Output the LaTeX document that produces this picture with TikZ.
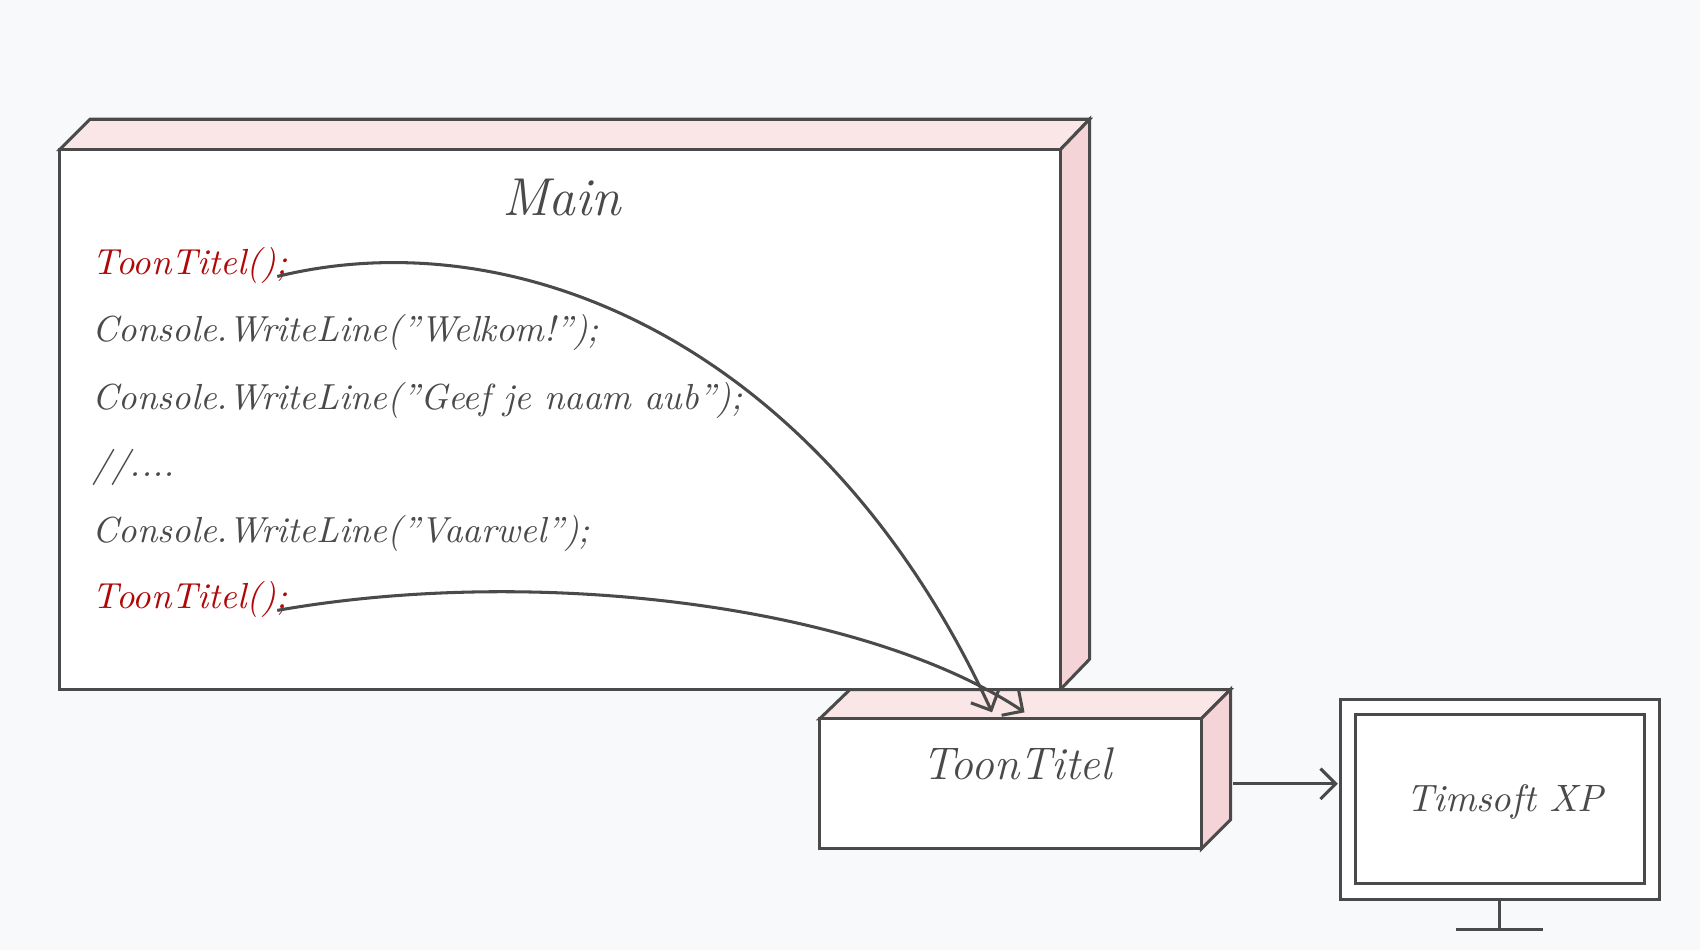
\documentclass[tikz,border=0pt]{standalone}
\usepackage{tikz}
\usetikzlibrary{arrows.meta,positioning}
\definecolor{bgc}{HTML}{F8F9FA}
\definecolor{sidec}{HTML}{F4D4D6}
\definecolor{topc}{HTML}{FBE6E7}
\definecolor{linec}{HTML}{4A4A4A}
\definecolor{redc}{HTML}{B00808}
\tikzset{
	box/.style={draw=linec, thick, fill=white},
	face/.style={draw=linec, thick},
	code/.style={anchor=west, inner sep=0pt, font=\fontsize{9.5}{11}\selectfont\itshape, text=linec},
	call/.style={code, text=redc},
	ar/.style={draw=linec, thick, -{Straight Barb[length=4pt]}}
}
\begin{document}
\begin{tikzpicture}[x=0.01cm, y=-0.01cm]
	\fill[bgc] (0,0) rectangle (1568,876);
	\useasboundingbox (0,0) rectangle (1568,876);
	% Main box
	\draw[face, fill=topc] (55,138) -- (83,110) -- (1005,110) -- (978,138) -- cycle;
	\draw[face, fill=sidec] (978,138) -- (1005,110) -- (1005,608) -- (978,636) -- cycle;
	\draw[box] (55,138) rectangle (978,636);
	\node[font=\fontsize{14}{17}\selectfont\itshape, text=linec] (main) at (518,182) {Main};
	\node[call] (call1) at (85,245) {ToonTitel();};
	\node[code] (l2) at (85,307) {Console.WriteLine("Welkom!");};
	\node[code] (l3) at (85,369) {Console.WriteLine("Geef je naam aub");};
	\node[code] (l4) at (85,431) {//....};
	\node[code] (l5) at (85,492) {Console.WriteLine("Vaarwel");};
	\node[call] (call2) at (85,553) {ToonTitel();};
	% ToonTitel box
	\draw[face, fill=topc] (756,663) -- (784,636) -- (1135,636) -- (1108,663) -- cycle;
	\draw[face, fill=sidec] (1108,663) -- (1135,636) -- (1135,756) -- (1108,783) -- cycle;
	\draw[box] (756,663) rectangle (1108,783);
	\node[font=\fontsize{12}{14}\selectfont\itshape, text=linec] (toon) at (938,705) {ToonTitel};
	\coordinate (t1) at (915,657);
	\coordinate (t2) at (945,657);
	\coordinate (tout) at (1137,723);
	% monitor
	\draw[box] (1236,645) rectangle (1531,830);
	\draw[box] (1250,659) rectangle (1517,815);
	\draw[linec, thick] (1383,830) -- (1383,857) (1343,857) -- (1423,857);
	\node[font=\fontsize{10}{12}\selectfont\itshape, text=linec] (scherm) at (1388,740) {Timsoft XP};
	\coordinate (min) at (1234,723);
	% calls
	\draw[ar] ([xshift=-0.1cm,yshift=-0.1cm]call1.east) .. controls (480,200) and (760,320) .. (t1);
	\draw[ar] ([xshift=-0.1cm,yshift=-0.1cm]call2.east) .. controls (500,520) and (800,560) .. (t2);
	\draw[ar] (tout) -- (min);
\end{tikzpicture}
\end{document}
